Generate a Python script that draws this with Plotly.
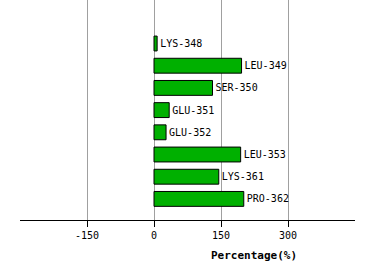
import plotly.graph_objects as go

labels = ["LYS-348", "LEU-349", "SER-350", "GLU-351", "GLU-352", "LEU-353", "LYS-361", "PRO-362"]
values = [7, 196, 131, 34, 27, 194, 145, 201]
tick_vals = [-150, 0, 150, 300]
tick_text = ["-150", "0", "150", "300"]

pos = list(range(len(labels)))

fig = go.Figure(go.Bar(
    x=values, y=pos, orientation="h",
    marker=dict(color="#00b000", line=dict(color="black", width=1)),
    width=0.67,
    text=labels, textposition="outside", cliponaxis=False,
    textfont=dict(family="DejaVu Sans Mono", size=10, color="black"),
))

fig.update_layout(
    width=374, height=280,
    margin=dict(l=20, r=19, t=0, b=60),
    plot_bgcolor="white", paper_bgcolor="white",
    showlegend=False,
    xaxis=dict(range=[-300, 450], tickvals=tick_vals, ticktext=tick_text,
               showgrid=True, gridcolor="#a0a0a0", gridwidth=1,
               zeroline=False, showline=True, linecolor="black", linewidth=1,
               ticks="outside", ticklen=6, tickcolor="black",
               tickfont=dict(family="DejaVu Sans Mono", size=10, color="black")),
    yaxis=dict(range=[7.95, -1.96], showticklabels=False, showgrid=False,
               zeroline=False, showline=False, ticks=""),
    annotations=[dict(text="<b>Percentage(%)</b>", showarrow=False,
                      xref="paper", yref="paper",
                      x=(254 - 20) / 335, y=(280 - 60 - 255) / 220,
                      xanchor="center", yanchor="middle",
                      font=dict(family="DejaVu Sans Mono", size=11, color="black"))],
)

fig.write_html("out.html")
